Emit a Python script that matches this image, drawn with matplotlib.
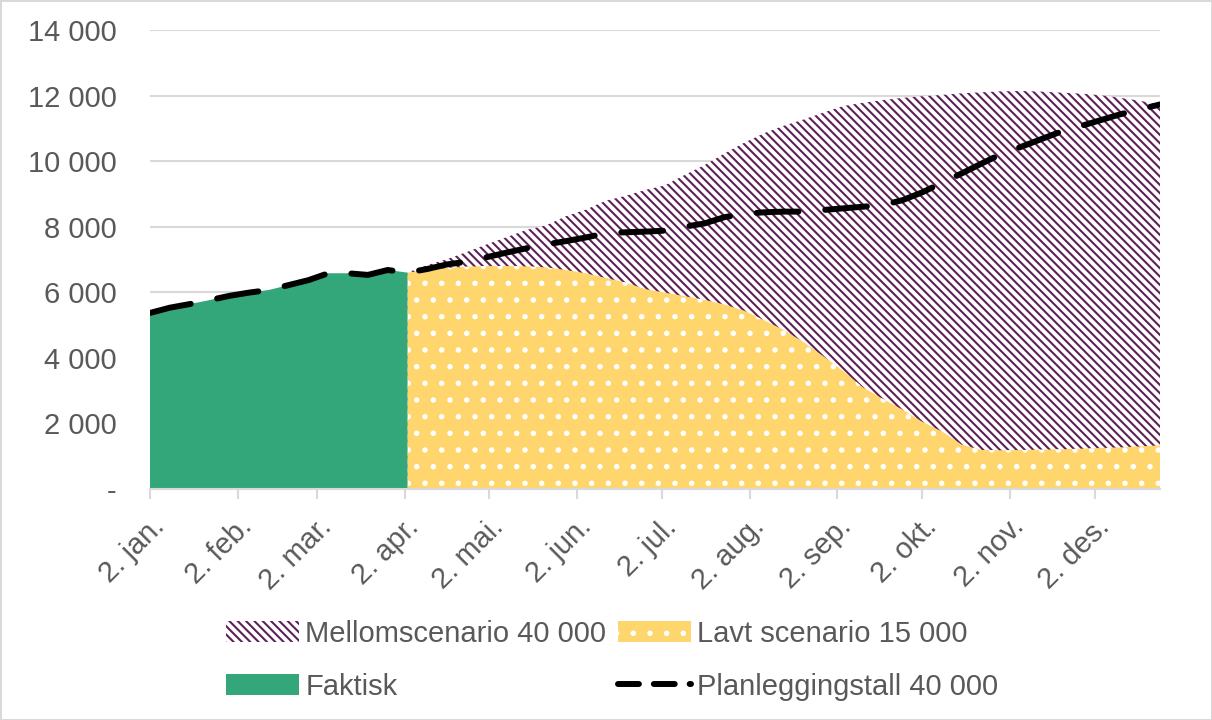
import numpy as np
import matplotlib
matplotlib.use("Agg")
import matplotlib.pyplot as plt
from matplotlib.patches import Patch
from matplotlib.lines import Line2D
from matplotlib.ticker import FuncFormatter

# weekly points (Sundays) through 2022
weeks = np.arange('2022-01-02', '2022-12-26', 7, dtype='datetime64[D]')

faktisk = [5370, 5530, 5640, 5760, 5890, 5990, 6070, 6220, 6370, 6580,
           6580, 6530, 6680, 6600]

lavt = [6600, 6680, 6740, 6780, 6800, 6800, 6790, 6760, 6680, 6580,
        6440, 6300, 6100, 5990, 5880, 5770, 5630, 5440, 5150, 4850,
        4480, 4050, 3600, 3100, 2750, 2420, 2050, 1750, 1350, 1190,
        1180, 1190, 1200, 1210, 1230, 1250, 1270, 1300, 1330]

mellom = [6600, 6830, 7010, 7230, 7460, 7680, 7900, 8040, 8320, 8520,
          8790, 8940, 9120, 9260, 9580, 9880, 10230, 10560, 10850, 11080,
          11270, 11480, 11680, 11780, 11860, 11930, 11980, 12020, 12070, 12100,
          12130, 12140, 12120, 12090, 12060, 12010, 11930, 11840, 11720]

plan = faktisk + [6710, 6850, 6930, 7070, 7210, 7340, 7460, 7560, 7670,
                  7800, 7830, 7850, 7880, 8000, 8100, 8290, 8390, 8440, 8460,
                  8460, 8510, 8560, 8610, 8660, 8810, 9050, 9340, 9630, 9930,
                  10220, 10440, 10670, 10900, 11070, 11250, 11430, 11580, 11730]

tick_dates = np.array(['2022-01-02', '2022-02-02', '2022-03-02', '2022-04-02',
                       '2022-05-02', '2022-06-02', '2022-07-02', '2022-08-02',
                       '2022-09-02', '2022-10-02', '2022-11-02', '2022-12-02'],
                      dtype='datetime64[D]')
tick_labels = ['2. jan.', '2. feb.', '2. mar.', '2. apr.', '2. mai.', '2. jun.',
               '2. jul.', '2. aug.', '2. sep.', '2. okt.', '2. nov.', '2. des.']

green = '#33A67A'
yellow = '#FFD56E'
purple = '#5E2157'
grey = '#595959'

plt.rcParams['font.family'] = ['Liberation Sans', 'DejaVu Sans']
plt.rcParams['hatch.linewidth'] = 1.5
fs = 21

fig = plt.figure(figsize=(12.12, 7.2), dpi=100, edgecolor='#D9D9D9', linewidth=2)
ax = fig.add_axes([150/1212, 1-489/720, 1010/1212, 459/720])

ax.fill_between(weeks[13:], 0, mellom, facecolor='white', edgecolor=purple,
                hatch='\\\\\\\\', linewidth=0, zorder=2)
ax.fill_between(weeks[13:], 0, lavt, facecolor=yellow, edgecolor='white',
                hatch='.', linewidth=0, zorder=3)
ax.fill_between(weeks[:14], 0, faktisk, facecolor=green, linewidth=0, zorder=4)
ax.plot(weeks, plan, color='black', lw=4.3, dashes=(7, 4.5),
        dash_capstyle='round', solid_capstyle='round', zorder=5)

ax.set_xlim(weeks[0], weeks[-1])
ax.set_ylim(0, 14000)
ax.set_yticks(range(0, 14001, 2000))
ax.yaxis.set_major_formatter(FuncFormatter(
    lambda v, p: '-' if v == 0 else f'{int(v):,}'.replace(',', ' ')))
ax.grid(axis='y', color='#D9D9D9', lw=1.5, zorder=0)
ax.set_axisbelow(True)

ax.set_xticks(tick_dates)
ax.set_xticklabels(tick_labels, rotation=45, ha='right', va='top',
                   rotation_mode='anchor')

for s in ['top', 'right', 'left']:
    ax.spines[s].set_visible(False)
ax.spines['bottom'].set_color('#D9D9D9')
ax.spines['bottom'].set_linewidth(1.5)
ax.spines['bottom'].set_zorder(6)
ax.tick_params(axis='y', length=0, pad=24, labelsize=fs, labelcolor=grey)
ax.tick_params(axis='x', length=7, width=1.5, color='#D9D9D9', pad=10,
               labelsize=fs, labelcolor=grey)

handles = [
    Patch(facecolor='white', edgecolor=purple, hatch='\\\\\\\\', linewidth=0),
    Patch(facecolor=green, linewidth=0),
    Patch(facecolor=yellow, edgecolor='white', hatch='.', linewidth=0),
    Line2D([], [], color='black', lw=4.3, dashes=(3.5, 2.5), dash_capstyle='round'),
]
labels = ['Mellomscenario 40 000', 'Faktisk', 'Lavt scenario 15 000',
          'Planleggingstall 40 000']
fig.legend(handles, labels, ncol=2, loc='center', bbox_to_anchor=(0.505, 0.083),
           frameon=False, fontsize=fs, labelcolor=grey, handlelength=2.5,
           handleheight=0.7, handletextpad=0.2, columnspacing=0.4,
           labelspacing=0.85)

fig.savefig('out.png', dpi=100, edgecolor=fig.get_edgecolor())
